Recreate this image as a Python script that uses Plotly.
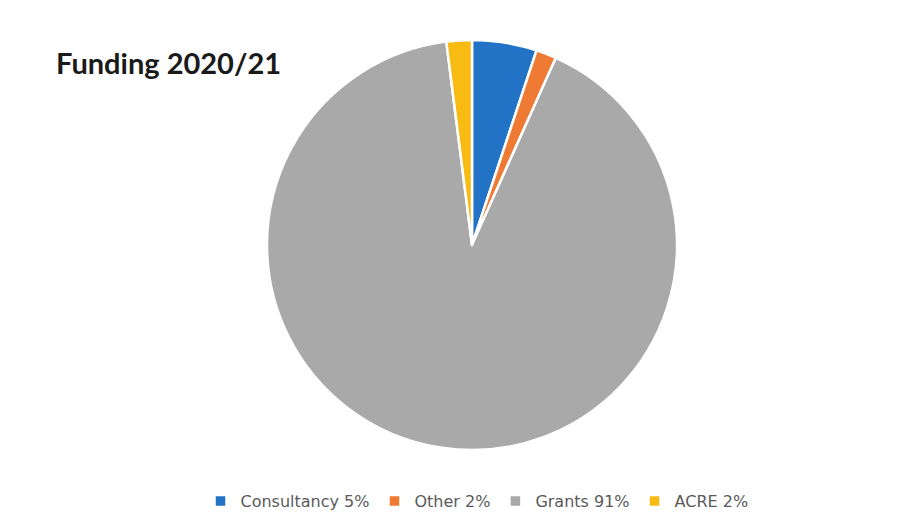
import plotly.graph_objects as go

labels = ["Consultancy 5%", "Other 2%", "Grants 91%", "ACRE 2%"]
values = [5.1, 1.6, 91.3, 2.0]
colors = ["#2273c6", "#ee7a33", "#a9a9a9", "#f7bb14"]

W, H = 922, 527
cx, cy, r = 472, 245, 205

fig = go.Figure(go.Pie(
    labels=labels, values=values, sort=False, direction="clockwise", rotation=0,
    marker=dict(colors=colors, line=dict(color="white", width=2.5)),
    textinfo="none", hoverinfo="label",
    domain=dict(x=[(cx - r) / W, (cx + r) / W], y=[1 - (cy + r) / H, 1 - (cy - r) / H]),
))

fig.update_layout(
    width=W, height=H, margin=dict(l=0, r=0, t=0, b=0),
    paper_bgcolor="white", plot_bgcolor="white",
    showlegend=True,
    legend=dict(orientation="h", x=477 / W, xanchor="center", y=1 - 501 / H, yanchor="middle",
                font=dict(family="DejaVu Sans", size=16, color="#5a5a5a"), itemwidth=30,
                traceorder="normal"),
    annotations=[dict(text="<b>Funding 2020/21</b>", x=54 / W, y=1 - 62 / H, xref="paper", yref="paper",
                      xanchor="left", yanchor="middle", showarrow=False,
                      font=dict(family="Lato", size=29, color="#1a1a1a"))],
)

fig.write_html("out.html")
